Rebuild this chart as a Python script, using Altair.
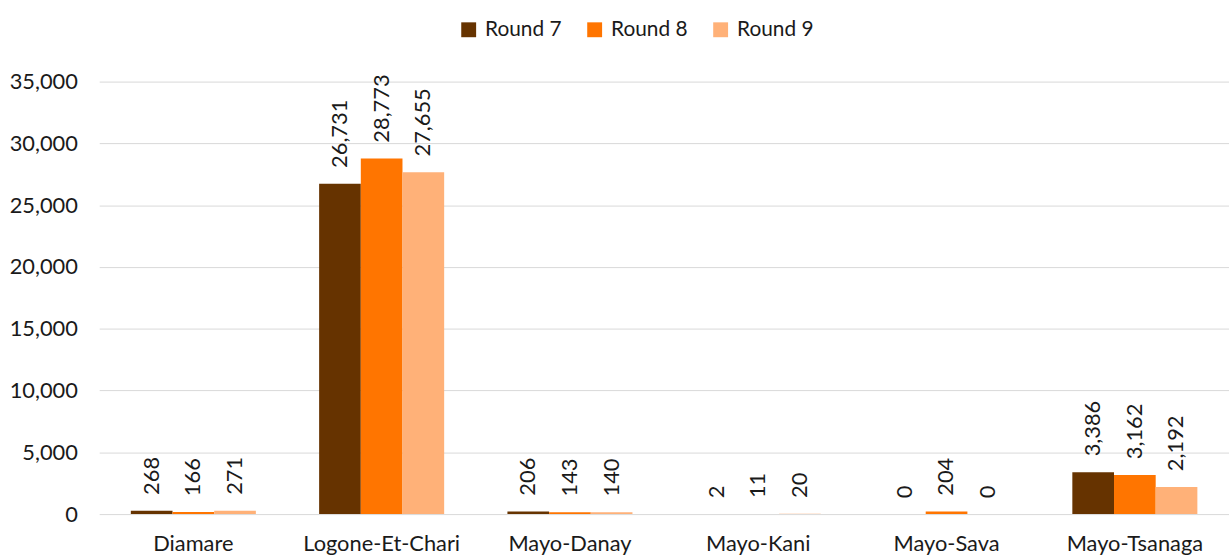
import altair as alt
import pandas as pd

# Departments and the three survey rounds
departments = ["Diamare", "Logone-Et-Chari", "Mayo-Danay", "Mayo-Kani", "Mayo-Sava", "Mayo-Tsanaga"]
rounds = ["Round 7", "Round 8", "Round 9"]
round7 = [268, 26731, 206, 2, 0, 3386]
round8 = [166, 28773, 143, 11, 204, 3162]
round9 = [271, 27655, 140, 20, 0, 2192]
colors = ["#663300", "#FF7500", "#FFB178"]
y_ticks = [0, 5000, 10000, 15000, 20000, 25000, 30000, 35000]

rows = []
for name, series in zip(rounds, [round7, round8, round9]):
    for dep, val in zip(departments, series):
        rows.append({"department": dep, "round": name, "value": val})
df = pd.DataFrame(rows)

FONT = "Lato"
TEXT_COLOR = "#1a1a1a"

x_enc = alt.X(
    "department:N",
    sort=departments,
    title=None,
    scale=alt.Scale(paddingInner=0.336, paddingOuter=0.168),
    axis=alt.Axis(labelAngle=0, domain=False, ticks=False, labelPadding=20,
                  labelFontSize=22, labelFont=FONT, labelColor=TEXT_COLOR),
)
y_enc = alt.Y(
    "value:Q",
    title=None,
    scale=alt.Scale(domain=[0, 35000], nice=False),
    axis=alt.Axis(values=y_ticks, format=",d", grid=True, gridColor="#d9d9d9",
                  domain=False, ticks=False, labelPadding=22,
                  labelFontSize=22, labelFont=FONT, labelColor=TEXT_COLOR),
)
xoff = alt.XOffset("round:N", sort=rounds, scale=alt.Scale(paddingInner=0, paddingOuter=0))

bars = alt.Chart(df).mark_bar().encode(
    x=x_enc,
    xOffset=xoff,
    y=y_enc,
    color=alt.Color(
        "round:N",
        sort=rounds,
        scale=alt.Scale(domain=rounds, range=colors),
        legend=alt.Legend(
            title=None, orient="none", direction="horizontal",
            legendX=362, legendY=-63,
            symbolType="square", symbolSize=225, symbolStrokeWidth=0,
            labelFontSize=21, labelFont=FONT, labelColor=TEXT_COLOR,
            columnPadding=22, labelOffset=6,
        ),
    ),
)

# Value labels, written upward from the top of each bar
labels = alt.Chart(df).mark_text(
    angle=270, align="left", baseline="middle", dx=16,
    fontSize=22, font=FONT, color=TEXT_COLOR,
).encode(
    x=x_enc,
    xOffset=xoff,
    y=y_enc,
    text=alt.Text("value:Q", format=",d"),
)

chart = (
    alt.layer(bars, labels)
    .properties(
        width=1139, height=436,
        autosize=alt.AutoSizeParams(type="none"),
        padding={"left": 100, "top": 80, "right": 0, "bottom": 41},
    )
    .configure_view(stroke=None)
)

chart.save("out.html", embed_options={"renderer": "svg", "actions": False})
